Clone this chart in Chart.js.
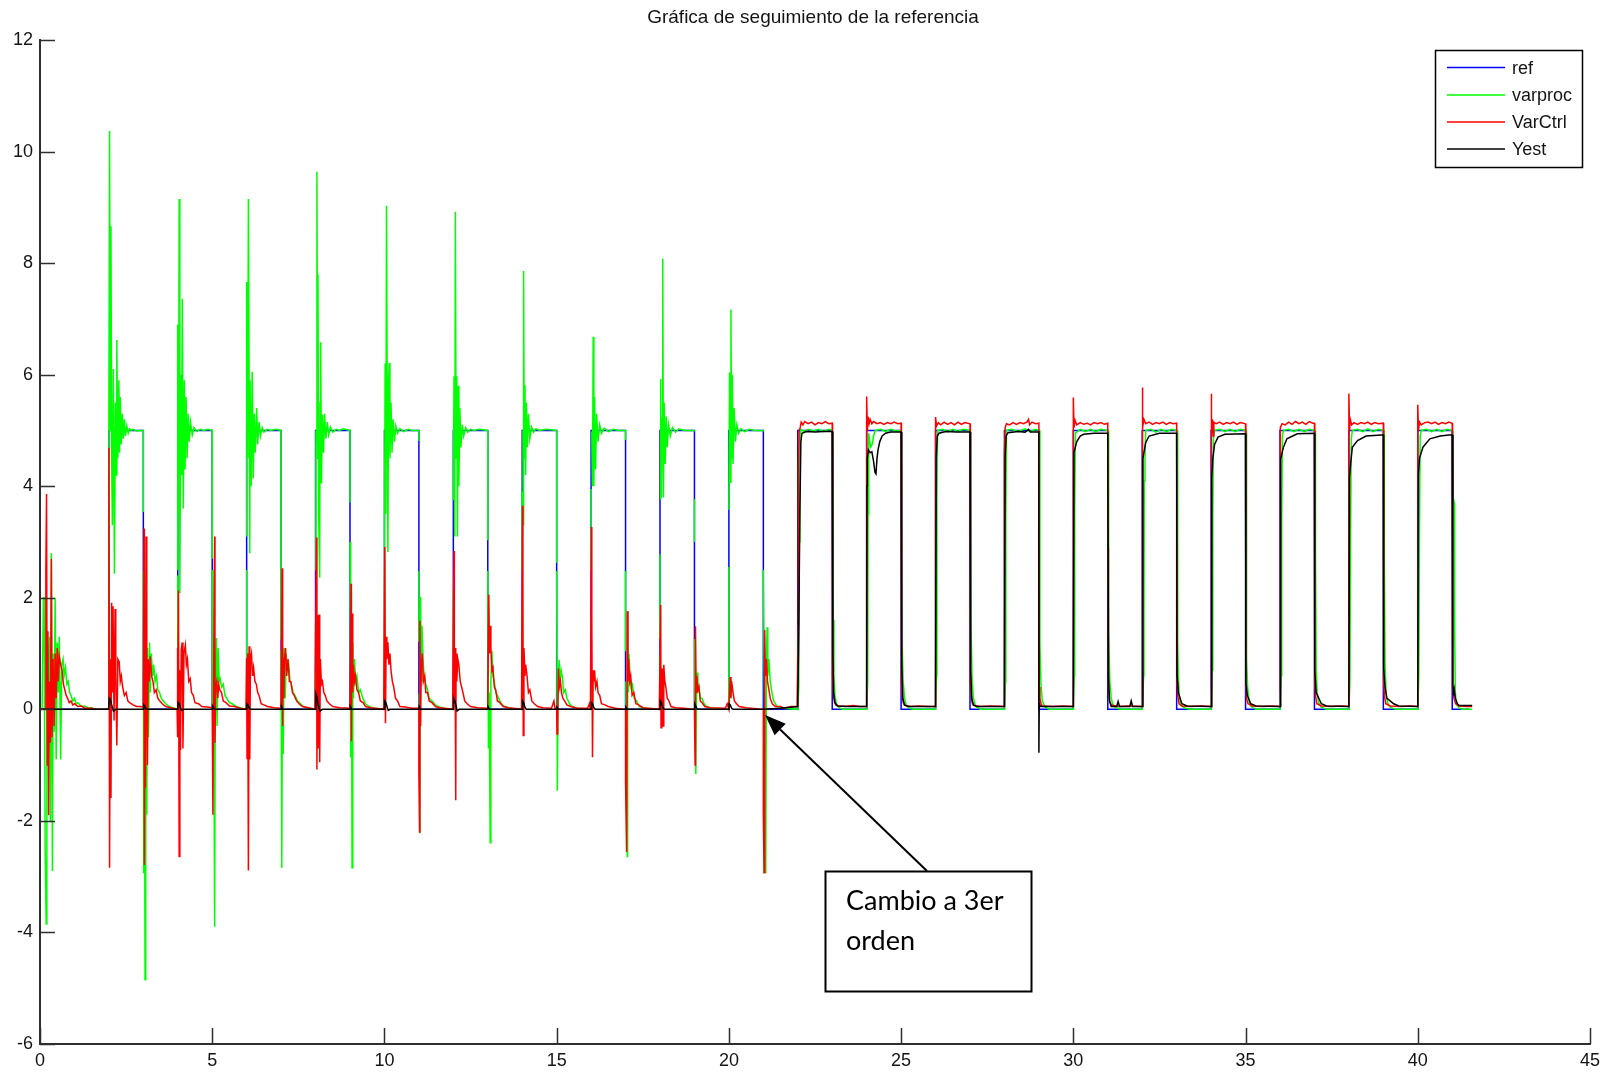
<!DOCTYPE html>
<html>
<head>
<meta charset="utf-8">
<script src="https://cdn.jsdelivr.net/npm/chart.js@4.4.1/dist/chart.umd.min.js"></script>
<style>
  html, body { margin: 0; padding: 0; background: #ffffff; }
  canvas { display: block; }
</style>
</head>
<body>
<canvas id="chart" width="1612" height="1073" style="width:1612px;height:1073px"></canvas>
<script>
// ---- axis ranges and labels ----
const xRange = [0, 45];
const xStep = 5;
const yRange = [-6, 12];
const yStep = 2;
const titleText = 'Gráfica de seguimiento de la referencia';
const seriesNames = ['ref', 'varproc', 'VarCtrl', 'Yest'];
const seriesColors = ['#0000ff', '#00ff00', '#ff0000', '#000000'];
const noteLines = ['Cambio a 3er', 'orden'];
const notePoint = [21.05, -0.1];   // where the arrow points (t, value)

// ---- reference signal (square wave) ----
const refPts = [
  [0,0],[2,0],[2,5],[3,5],[3,0],[4,0],[4,5],[5,5],[5,0],[6,0],[6,5],[7,5],[7,0],[8,0],[8,5],[9,5],[9,0],
  [10,0],[10,5],[11,5],[11,0],[12,0],[12,5],[13,5],[13,0],[14,0],[14,5],[15,5],[15,0],[16,0],[16,5],[17,5],[17,0],
  [18,0],[18,5],[19,5],[19,0],[20,0],[20,5],[21,5],[21,0],[22,0],[22,5],[23,5],[23,0],[24,0],[24,5],[25,5],[25,0],
  [26,0],[26,5],[27,5],[27,0],[28,0],[28,5],[29,5],[29,0],[30,0],[30,5],[31,5],[31,0],[32,0],[32,5],[33,5],[33,0],
  [34,0],[34,5],[35,5],[35,0],[36,0],[36,5],[37,5],[37,0],[38,0],[38,5],[39,5],[39,0],[40,0],[40,5],[41,5],[41,0],[41.5,0]
];

// ---- process variable, 2nd-order stage (t < 21.6) ----
const varprocEarly = [
  [0,0],[0.06,0],[0.1,2.0],[0.12,2.0],[0.15,-2.5],[0.18,-3.85],[0.2,1.4],[0.23,-0.5],[0.25,0.9],[0.28,1.3],[0.3,-2.0],
  [0.33,2.8],[0.36,-2.9],[0.38,1.0],[0.41,-0.4],[0.44,2.0],[0.47,-0.9],[0.5,1.2],[0.53,0.3],[0.56,1.3],[0.6,-0.9],
  [0.63,0.8],[0.67,0.9],[0.7,0.6],[0.74,0.75],[0.78,0.45],[0.82,0.5],[0.86,0.3],[0.9,0.25],[0.95,0.15],[1.0,0.2],
  [1.05,0.1],[1.1,0.12],[1.2,0.05],[1.3,0.06],[1.4,0.02],[1.5,0.03],[1.6,0],[2.0,0],
  [2.0,5.4],[2.02,10.37],[2.04,5.0],[2.06,8.66],[2.08,4.6],[2.1,3.3],[2.13,6.1],[2.16,2.43],[2.19,5.5],[2.21,4.2],
  [2.23,6.62],[2.26,4.5],[2.29,5.9],[2.31,4.6],[2.33,5.6],[2.36,4.75],[2.39,5.3],[2.42,4.85],[2.45,5.2],[2.48,4.9],
  [2.52,5.08],[2.56,4.95],[2.6,5.03],[2.65,5.0],[2.7,5.02],[2.8,4.99],[2.9,5.0],[3.0,5.0],
  [3.0,3.54],[3.0,null],[3.0,2.48],[3.01,-2.94],[3.03,0.5],[3.05,-4.85],[3.07,1.33],[3.1,-1.89],[3.12,1.1],[3.15,-0.5],
  [3.18,1.2],[3.2,0.3],[3.23,1.0],[3.27,0.6],[3.3,0.8],[3.34,0.5],[3.38,0.6],[3.42,0.35],[3.47,0.3],[3.52,0.2],
  [3.58,0.15],[3.65,0.1],[3.75,0.05],[3.85,0.03],[4.0,0],
  [4.0,2.4],[4.0,null],[4.0,2.5],[4.0,6.9],[4.02,3.5],[4.04,9.15],[4.06,2.08],[4.09,6.0],[4.11,4.2],[4.13,7.36],
  [4.16,3.6],[4.19,5.9],[4.21,4.3],[4.24,5.6],[4.27,4.5],[4.3,5.3],[4.33,4.8],[4.37,5.15],[4.42,4.92],[4.47,5.05],
  [4.55,4.98],[4.65,5.02],[4.75,5.0],[4.88,5.02],[5.0,5.0],
  [5.0,2.7],[5.0,null],[5.0,2.5],[5.02,-0.5],[5.04,0.8],[5.07,-3.9],[5.09,0.6],[5.12,1.28],[5.14,-0.3],[5.17,1.1],
  [5.2,0.5],[5.23,0.55],[5.27,0.4],[5.32,0.45],[5.37,0.25],[5.42,0.2],[5.5,0.12],[5.58,0.1],[5.7,0.05],[5.85,0.02],[6.0,0],
  [6.0,2.5],[6.0,null],[6.0,3.1],[6.0,7.66],[6.03,4.5],[6.05,9.15],[6.07,5.9],[6.09,2.8],[6.1,5.9],[6.13,4.0],
  [6.16,6.05],[6.19,4.14],[6.22,5.3],[6.25,4.6],[6.29,5.4],[6.32,4.75],[6.36,5.15],[6.4,4.9],[6.45,5.05],[6.5,4.97],
  [6.6,5.02],[6.7,5.0],[6.85,5.02],[7.0,5.0],
  [7.0,1.25],[7.0,null],[7.0,1.05],[7.02,-2.84],[7.04,1.13],[7.06,-0.8],[7.09,1.1],[7.12,0.2],[7.15,1.0],[7.18,0.7],
  [7.22,0.8],[7.26,0.5],[7.3,0.45],[7.35,0.3],[7.4,0.25],[7.48,0.15],[7.56,0.1],[7.65,0.05],[7.8,0.02],[8.0,0],
  [8.0,1.55],[8.0,null],[8.0,2.5],[8.01,5.0],[8.02,4.8],[8.04,9.64],[8.06,4.5],[8.07,7.8],[8.09,3.5],[8.12,2.36],
  [8.13,5.5],[8.15,6.58],[8.17,4.05],[8.2,5.28],[8.23,4.6],[8.26,5.3],[8.3,4.85],[8.34,5.15],[8.38,4.92],[8.43,5.06],
  [8.5,4.97],[8.6,5.02],[8.7,5.0],[8.8,5.03],[9.0,5.0],
  [9.0,3.71],[9.0,null],[9.0,3.0],[9.02,-0.86],[9.04,2.21],[9.06,-2.84],[9.08,1.2],[9.1,0.2],[9.13,0.9],[9.16,0.5],
  [9.2,0.6],[9.25,0.3],[9.3,0.35],[9.37,0.2],[9.45,0.1],[9.55,0.05],[9.7,0.02],[10.0,0],
  [10.0,2.82],[10.02,6.2],[10.04,3.5],[10.06,9.03],[10.08,5.7],[10.1,2.82],[10.12,5.9],[10.14,6.21],[10.16,4.5],
  [10.19,5.5],[10.22,4.6],[10.25,5.2],[10.29,4.8],[10.33,5.08],[10.38,4.95],[10.45,5.03],[10.55,4.98],[10.7,5.02],
  [10.8,5.0],[11.0,5.0],
  [11.0,4.81],[11.0,null],[11.0,2.48],[11.0,1.21],[11.0,null],[11.01,0.28],[11.02,-1.0],[11.03,-2.22],[11.05,2.02],
  [11.07,0.5],[11.09,1.5],[11.12,0.9],[11.15,0.6],[11.2,0.45],[11.25,0.35],[11.3,0.2],[11.38,0.15],[11.45,0.1],
  [11.55,0.05],[11.7,0.02],[12.0,0],
  [12.0,0.7],[12.0,null],[12.0,1.0],[12.0,2.14],[12.0,null],[12.0,3.75],[12.02,5.97],[12.04,3.1],[12.06,8.92],
  [12.08,4.5],[12.1,5.97],[12.12,3.1],[12.14,5.8],[12.16,4.0],[12.19,5.4],[12.22,4.7],[12.26,5.1],[12.3,4.9],
  [12.36,5.05],[12.42,4.97],[12.5,5.02],[12.6,5.0],[12.75,5.02],[13.0,5.0],
  [13.0,3.03],[13.0,null],[13.0,2.48],[13.02,-0.7],[13.04,0.3],[13.07,-2.39],[13.09,0.5],[13.12,1.05],[13.15,0.6],
  [13.19,0.5],[13.23,0.3],[13.28,0.25],[13.35,0.15],[13.42,0.08],[13.5,0.05],[13.65,0.02],[14.0,0],
  [14.0,1.8],[14.0,null],[14.0,2.5],[14.0,3.9],[14.0,null],[14.02,5.0],[14.03,3.31],[14.04,7.86],[14.06,4.5],
  [14.08,5.81],[14.1,4.2],[14.12,5.5],[14.15,4.7],[14.18,5.3],[14.22,4.85],[14.27,5.06],[14.33,4.97],[14.4,5.03],
  [14.5,5.0],[14.7,5.02],[15.0,5.0],
  [15.0,2.63],[15.0,null],[15.0,2.48],[15.02,-1.46],[15.04,0.2],[15.07,0.89],[15.1,0.5],[15.13,0.7],[15.17,0.55],
  [15.2,0.3],[15.25,0.35],[15.3,0.2],[15.37,0.1],[15.45,0.05],[15.6,0.02],[16.0,0],
  [16.0,1.64],[16.0,null],[16.0,2.5],[16.0,3.95],[16.0,null],[16.02,4.98],[16.04,4.0],[16.06,6.68],[16.08,4.0],
  [16.1,5.6],[16.13,4.3],[16.16,5.3],[16.2,4.8],[16.25,5.1],[16.3,4.95],[16.38,5.04],[16.5,4.98],[16.65,5.02],
  [16.8,5.0],[17.0,5.0],
  [17.0,4.83],[17.0,null],[17.0,2.48],[17.0,1.04],[17.0,null],[17.01,0.5],[17.02,-1.3],[17.05,-2.64],[17.06,1.76],
  [17.08,0.3],[17.1,1.0],[17.13,0.6],[17.16,0.4],[17.2,0.45],[17.25,0.2],[17.32,0.15],[17.4,0.05],[17.55,0.02],[18.0,0],
  [18.0,0.96],[18.0,null],[18.0,1.27],[18.0,2.78],[18.0,null],[18.0,3.77],[18.02,5.92],[18.04,3.8],[18.06,5.2],
  [18.08,8.08],[18.1,3.8],[18.12,5.5],[18.15,4.4],[18.18,5.25],[18.21,4.7],[18.25,5.1],[18.3,4.9],[18.36,5.05],
  [18.45,4.97],[18.55,5.03],[18.7,5.0],[19.0,5.0],
  [19.0,4.98],[19.0,null],[19.0,3.77],[19.0,3.0],[19.0,null],[19.0,1.26],[19.02,-0.5],[19.04,-1.16],[19.06,0.3],
  [19.08,0.66],[19.1,0.3],[19.13,0.4],[19.17,0.2],[19.22,0.2],[19.28,0.1],[19.35,0.05],[19.5,0.02],[20.0,0],
  [20.0,2.55],[20.0,null],[20.0,3.58],[20.02,6.04],[20.04,4.07],[20.06,7.17],[20.08,4.5],[20.1,6.0],[20.12,4.4],
  [20.15,5.4],[20.19,4.8],[20.23,5.1],[20.28,4.95],[20.35,5.03],[20.45,4.98],[20.6,5.02],[20.75,5.0],[21.0,5.0],
  [21.0,4.98],[21.0,null],[21.0,2.5],[21.03,0.5],[21.05,-1.0],[21.07,-2.94],[21.09,1.0],[21.11,1.47],[21.13,0.6],
  [21.16,0.9],[21.2,0.5],[21.25,0.3],[21.3,0.15],[21.4,0.05],[21.55,0.02]
];

// ---- process variable, 3rd-order stage ----
const varprocLate = [
  [22.0,0],[22.03,0.4],[22.04,3.0],[22.06,4.85],[22.08,5.02],[22.2,4.98],[22.3,5.02],[22.45,4.99],[22.6,5.02],
  [22.75,4.98],[22.9,5.02],[23.0,5.0],
  [23.02,5.0],[23.03,1.6],[23.05,0.6],[23.08,0.25],[23.12,0.1],[23.2,0.03],[23.3,0],[24.0,0],
  [24.03,0.5],[24.04,3.5],[24.06,4.95],[24.09,4.8],[24.12,4.7],[24.16,4.75],[24.2,4.9],[24.25,5.0],[24.4,5.02],
  [24.55,4.98],[24.7,5.02],[24.85,4.99],[25.0,5.0],
  [25.02,5.0],[25.03,1.2],[25.06,0.5],[25.1,0.2],[25.15,0.07],[25.25,0.02],[25.35,0],[26.0,0],
  [26.03,0.6],[26.04,3.8],[26.06,5.0],[26.2,5.02],[26.35,4.98],[26.5,5.02],[26.65,4.98],[26.8,5.02],[27.0,5.0],
  [27.02,5.0],[27.03,1.5],[27.06,0.55],[27.1,0.2],[27.16,0.06],[27.3,0],[28.0,0],
  [28.03,0.5],[28.04,3.5],[28.06,5.0],[28.2,5.02],[28.4,4.98],[28.6,5.03],[28.75,4.98],[28.9,5.02],[29.0,5.0],
  [29.02,5.0],[29.03,1.2],[29.06,0.45],[29.1,0.15],[29.18,0.04],[29.3,0],[30.0,0],
  [30.03,0.6],[30.04,3.6],[30.06,4.95],[30.2,5.02],[30.35,4.98],[30.5,5.02],[30.65,4.98],[30.8,5.02],[31.0,5.0],
  [31.01,5.0],[31.02,3.8],[31.03,1.4],[31.06,0.5],[31.1,0.2],[31.15,0.08],[31.25,0.02],[31.4,0],[32.0,0],
  [32.04,0.6],[32.05,1.7],[32.06,4.1],[32.08,4.5],[32.1,5.0],[32.25,5.02],[32.4,4.97],[32.55,5.02],[32.7,4.98],
  [32.85,5.02],[33.0,5.0],
  [33.02,5.0],[33.03,1.2],[33.05,0.6],[33.08,0.2],[33.13,0.07],[33.25,0.02],[33.4,0],[34.0,0],
  [34.03,0.7],[34.05,3.5],[34.07,4.9],[34.1,5.0],[34.25,5.02],[34.4,4.98],[34.55,5.02],[34.7,4.98],[34.85,5.02],[35.0,5.0],
  [35.02,5.0],[35.03,0.9],[35.06,0.4],[35.1,0.15],[35.16,0.05],[35.3,0],[36.0,0],
  [36.03,0.6],[36.05,3.4],[36.07,4.9],[36.1,5.0],[36.25,5.02],[36.4,4.98],[36.55,5.02],[36.7,4.98],[36.85,5.02],[37.0,5.0],
  [37.02,5.0],[37.03,2.8],[37.05,0.7],[37.08,0.3],[37.12,0.12],[37.2,0.04],[37.35,0],[38.0,0],
  [38.03,0.5],[38.05,3.2],[38.07,4.85],[38.1,5.0],[38.25,5.02],[38.4,4.98],[38.55,5.03],[38.7,4.98],[38.85,5.02],[39.0,5.0],
  [39.02,5.0],[39.03,2.66],[39.05,0.8],[39.08,0.3],[39.12,0.12],[39.2,0.04],[39.35,0],[40.0,0],
  [40.03,0.6],[40.05,3.3],[40.07,4.9],[40.1,5.0],[40.25,5.02],[40.4,4.98],[40.55,5.02],[40.7,4.98],[40.85,5.02],[41.0,5.0],
  [41.02,4.98],[41.03,3.8],[41.06,3.7],[41.07,1.5],[41.09,0.3],[41.12,0.1],[41.2,0.02],[41.3,0],[41.58,0]
];

// ---- control variable, 2nd-order stage ----
const varCtrlEarly = [
  [0,0],[0.15,0],[0.17,2.5],[0.19,3.86],[0.21,-1.0],[0.23,1.4],[0.25,-1.9],[0.27,0.5],[0.3,-0.6],[0.33,2.7],
  [0.35,-0.5],[0.38,0.9],[0.41,-0.3],[0.44,1.0],[0.47,0.2],[0.5,1.1],[0.53,0.5],[0.56,0.95],[0.6,0.8],[0.64,0.7],
  [0.68,0.45],[0.72,0.35],[0.76,0.25],[0.8,0.2],[0.85,0.12],[0.9,0.15],[0.95,0.08],[1.0,0.1],[1.1,0.05],[1.2,0.06],
  [1.3,0.02],[1.5,0.02],[1.6,0],[1.98,0],
  [2.0,4.69],[2.02,-2.84],[2.04,0.9],[2.06,-1.59],[2.08,1.91],[2.1,0.3],[2.12,1.85],[2.15,-0.2],[2.18,1.8],[2.2,0.6],
  [2.23,-0.65],[2.26,0.9],[2.3,0.85],[2.33,0.5],[2.36,0.6],[2.4,0.4],[2.45,0.25],[2.5,0.3],[2.55,0.15],[2.6,0.12],
  [2.7,0.08],[2.8,0.05],[2.9,0.05],[3.0,0.04],
  [3.02,3.24],[3.03,-2.79],[3.05,1.0],[3.06,-1.4],[3.08,3.1],[3.1,0.4],[3.12,-1.0],[3.14,0.9],[3.17,0.5],[3.2,0.95],
  [3.24,0.6],[3.28,0.5],[3.32,0.3],[3.37,0.35],[3.42,0.2],[3.48,0.15],[3.55,0.1],[3.65,0.05],[3.8,0.03],[3.98,0],
  [3.99,1.1],[4.0,-0.5],[4.02,2.13],[4.04,-2.64],[4.06,0.7],[4.08,-0.73],[4.1,1.07],[4.13,1.2],[4.15,-0.7],[4.18,1.0],
  [4.22,1.15],[4.25,0.8],[4.28,0.9],[4.32,0.5],[4.36,0.55],[4.4,0.3],[4.45,0.25],[4.5,0.12],[4.6,0.1],[4.7,0.05],
  [4.85,0.04],[5.0,0.03],
  [5.02,-1.89],[5.04,0.6],[5.07,3.1],[5.08,-0.6],[5.1,0.4],[5.13,0.5],[5.16,0.2],[5.19,0.45],[5.22,0.35],[5.27,0.3],
  [5.32,0.15],[5.4,0.12],[5.5,0.06],[5.65,0.05],[5.8,0.02],[5.98,0],
  [6.0,0.92],[6.01,-0.88],[6.03,1.0],[6.05,-2.89],[6.07,1.13],[6.09,-0.9],[6.11,0.9],[6.14,1.0],[6.17,0.6],[6.2,0.75],
  [6.24,0.5],[6.28,0.45],[6.32,0.3],[6.36,0.25],[6.42,0.1],[6.5,0.08],[6.6,0.05],[6.8,0.03],[7.0,0.02],
  [7.03,2.53],[7.04,-0.3],[7.05,1.13],[7.08,0.2],[7.1,0.9],[7.13,1.1],[7.16,0.6],[7.2,0.9],[7.24,0.5],[7.28,0.5],
  [7.33,0.3],[7.38,0.25],[7.45,0.15],[7.52,0.1],[7.62,0.05],[7.8,0.03],[7.98,0],
  [8.03,3.08],[8.04,-1.08],[8.06,1.68],[8.08,-0.7],[8.1,1.7],[8.12,-0.95],[8.14,0.9],[8.17,0.45],[8.2,0.5],[8.24,0.3],
  [8.28,0.25],[8.33,0.15],[8.4,0.1],[8.5,0.05],[8.7,0.03],[9.0,0.02],
  [9.03,2.25],[9.04,-0.57],[9.06,1.72],[9.08,0.3],[9.1,0.8],[9.13,0.5],[9.16,0.6],[9.2,0.35],[9.25,0.3],[9.3,0.15],
  [9.38,0.12],[9.45,0.05],[9.6,0.03],[9.98,0],
  [10.01,2.91],[10.03,-0.25],[10.05,1.3],[10.07,0.9],[10.1,1.2],[10.13,0.8],[10.16,1.0],[10.19,0.7],[10.23,0.5],
  [10.27,0.4],[10.32,0.2],[10.38,0.15],[10.45,0.05],[10.6,0.04],[10.8,0.02],[11.0,0.02],
  [11.0,-1.1],[11.02,-2.2],[11.03,1.59],[11.05,-0.3],[11.07,0.8],[11.1,1.0],[11.13,0.5],[11.17,0.6],[11.2,0.3],
  [11.25,0.3],[11.3,0.15],[11.38,0.12],[11.48,0.05],[11.6,0.03],[11.98,0],
  [12.02,2.84],[12.03,0.2],[12.05,1.1],[12.07,-1.63],[12.08,1.0],[12.1,0.5],[12.13,0.9],[12.16,0.8],[12.2,0.5],
  [12.24,0.4],[12.28,0.3],[12.33,0.15],[12.4,0.1],[12.5,0.05],[12.7,0.03],[13.0,0.02],
  [13.03,2.06],[13.05,1.0],[13.07,1.5],[13.09,1.1],[13.12,0.7],[13.15,0.75],[13.19,0.4],[13.23,0.35],[13.28,0.15],
  [13.35,0.12],[13.45,0.05],[13.6,0.03],[13.98,0],
  [14.01,3.65],[14.02,2.2],[14.03,-0.47],[14.05,1.1],[14.08,0.6],[14.1,0.8],[14.14,0.6],[14.18,0.3],[14.22,0.35],
  [14.28,0.15],[14.35,0.1],[14.45,0.05],[14.6,0.03],[14.85,0.02],[14.92,0.15],[14.95,0.02],[15.0,0],
  [15.01,-0.44],[15.03,-0.3],[15.05,0.73],[15.08,0.4],[15.11,0.5],[15.14,0.3],[15.18,0.2],[15.23,0.15],[15.3,0.08],
  [15.4,0.05],[15.6,0.02],[15.9,0.02],[15.95,0.1],[15.98,0],
  [16.01,3.27],[16.02,1.6],[16.04,-0.86],[16.06,0.7],[16.08,0.5],[16.1,0.7],[16.13,0.4],[16.17,0.5],[16.2,0.3],
  [16.25,0.25],[16.3,0.1],[16.4,0.08],[16.5,0.05],[16.7,0.02],[17.0,0],
  [17.0,-1.3],[17.03,-2.56],[17.05,1.76],[17.07,0.5],[17.09,0.9],[17.12,0.5],[17.15,0.6],[17.19,0.25],[17.24,0.3],
  [17.3,0.1],[17.38,0.08],[17.5,0.03],[17.98,0],
  [18.02,1.87],[18.03,-0.33],[18.05,0.6],[18.07,0.73],[18.09,-0.3],[18.11,0.8],[18.14,0.5],[18.17,0.4],[18.21,0.2],
  [18.26,0.15],[18.32,0.05],[18.45,0.03],[18.7,0.02],[19.0,0],
  [19.02,-1.0],[19.03,1.49],[19.05,0.3],[19.07,0.6],[19.1,0.35],[19.13,0.4],[19.17,0.15],[19.22,0.12],[19.3,0.05],
  [19.45,0.03],[19.9,0.02],[19.95,0.1],[20.0,0],
  [20.02,0.3],[20.04,0.58],[20.06,0.2],[20.08,0.5],[20.12,0.3],[20.16,0.15],[20.22,0.1],[20.3,0.05],[20.5,0.03],[21.0,0],
  [21.0,-1.84],[21.02,-2.93],[21.04,1.42],[21.06,0.6],[21.09,0.9],[21.12,0.5],[21.15,0.4],[21.2,0.2],[21.26,0.1],
  [21.35,0.05],[21.5,0.05],[21.6,0.02],[21.8,0.05],[21.98,0.05]
];

// ---- control variable, 3rd-order stage ----
const varCtrlLate = [
  [22.0,0.05],[22.01,1.5],[22.02,4.3],[22.04,5.0],[22.07,5.05],[22.1,5.15],[22.15,5.1],[22.2,5.16],[22.3,5.12],
  [22.4,5.15],[22.5,5.1],[22.6,5.14],[22.7,5.12],[22.8,5.16],[22.9,5.12],[23.0,5.13],
  [23.01,0.6],[23.03,0.3],[23.06,0.15],[23.1,0.08],[23.2,0.06],[23.4,0.05],[23.6,0.07],[23.8,0.05],[24.0,0.05],
  [24.0,5.61],[24.02,5.0],[24.04,5.25],[24.07,5.12],[24.1,5.2],[24.15,5.12],[24.2,5.16],[24.3,5.12],[24.4,5.14],
  [24.5,5.11],[24.6,5.14],[24.7,5.12],[24.8,5.15],[24.9,5.12],[25.0,5.13],
  [25.01,0.5],[25.03,0.25],[25.06,0.12],[25.1,0.07],[25.3,0.05],[25.5,0.06],[25.8,0.05],[26.0,0.05],
  [26.0,5.24],[26.03,5.08],[26.08,5.14],[26.15,5.1],[26.25,5.15],[26.35,5.11],[26.45,5.14],[26.55,5.1],[26.65,5.15],
  [26.75,5.11],[26.85,5.14],[27.0,5.12],
  [27.01,0.5],[27.03,0.3],[27.06,0.12],[27.1,0.07],[27.3,0.05],[27.6,0.06],[28.0,0.05],
  [28.0,4.6],[28.02,5.05],[28.06,5.12],[28.15,5.1],[28.25,5.14],[28.35,5.11],[28.45,5.14],[28.55,5.12],[28.65,5.15],
  [28.7,5.2],[28.73,5.1],[28.8,5.15],[28.9,5.12],[29.0,5.13],
  [29.01,0.4],[29.03,0.2],[29.06,0.1],[29.1,0.06],[29.4,0.05],[29.7,0.06],[30.0,0.05],
  [30.0,5.59],[30.02,5.05],[30.05,5.18],[30.1,5.1],[30.2,5.14],[30.3,5.11],[30.4,5.13],[30.5,5.1],[30.6,5.14],
  [30.7,5.12],[30.8,5.14],[30.9,5.11],[31.0,5.13],
  [31.01,2.9],[31.02,0.4],[31.05,0.15],[31.1,0.08],[31.3,0.05],[31.6,0.06],[32.0,0.05],
  [32.0,5.77],[32.02,5.05],[32.05,5.2],[32.1,5.12],[32.2,5.15],[32.3,5.11],[32.4,5.14],[32.5,5.12],[32.6,5.15],
  [32.7,5.11],[32.8,5.14],[32.9,5.12],[33.0,5.13],
  [33.01,0.5],[33.03,0.25],[33.07,0.1],[33.15,0.06],[33.4,0.05],[33.7,0.06],[34.0,0.05],
  [34.0,5.66],[34.02,4.95],[34.04,5.2],[34.06,4.9],[34.08,5.15],[34.15,5.12],[34.25,5.15],[34.35,5.11],[34.45,5.14],
  [34.55,5.12],[34.65,5.15],[34.75,5.11],[34.85,5.14],[35.0,5.12],
  [35.01,0.5],[35.03,0.2],[35.07,0.1],[35.2,0.06],[35.5,0.05],[35.8,0.06],[36.0,0.05],
  [36.0,4.3],[36.02,5.05],[36.06,5.12],[36.15,5.1],[36.25,5.15],[36.35,5.11],[36.45,5.16],[36.55,5.12],[36.65,5.15],
  [36.75,5.11],[36.85,5.16],[36.95,5.13],[37.0,5.13],
  [37.01,0.5],[37.03,0.25],[37.07,0.1],[37.2,0.06],[37.5,0.05],[37.8,0.06],[38.0,0.05],
  [38.0,5.66],[38.02,5.0],[38.04,5.2],[38.08,5.1],[38.15,5.14],[38.25,5.11],[38.35,5.14],[38.45,5.12],[38.55,5.15],
  [38.65,5.11],[38.75,5.14],[38.85,5.12],[39.0,5.13],
  [39.01,0.5],[39.03,0.25],[39.07,0.1],[39.2,0.06],[39.5,0.05],[39.8,0.06],[40.0,0.05],
  [40.0,5.46],[40.02,5.0],[40.05,5.15],[40.1,5.1],[40.2,5.14],[40.3,5.15],[40.4,5.12],[40.5,5.15],[40.6,5.11],
  [40.7,5.14],[40.8,5.12],[40.9,5.15],[41.0,5.13],
  [41.0,3.85],[41.02,0.4],[41.05,0.2],[41.1,0.1],[41.2,0.06],[41.4,0.05],[41.58,0.05]
];

// ---- estimated output, 2nd-order stage ----
const yestEarly = [
  [0,0],[1.99,0],[2.01,0.2],[2.04,0.18],[2.07,0.1],[2.1,0.04],[2.13,-0.03],[2.2,0],
  [3.0,0],[3.01,0.08],[3.04,0.06],[3.08,0],
  [4.0,0],[4.01,0.12],[4.04,0.1],[4.08,0.03],[4.11,-0.02],[4.16,0],
  [5.0,0],[5.01,0.06],[5.05,0.02],[5.08,0],
  [6.0,0],[6.01,0.1],[6.04,0.08],[6.08,0.02],[6.12,0],
  [7.0,0],[7.01,0.05],[7.05,0],
  [8.0,0],[8.01,0.28],[8.04,0.22],[8.07,0.1],[8.1,0.03],[8.13,-0.03],[8.2,0],
  [9.0,0],[9.01,0.05],[9.05,0],
  [10.0,0],[10.01,0.15],[10.04,0.12],[10.08,0.04],[10.11,-0.02],[10.16,0],
  [11.0,0],[11.01,0.05],[11.05,0],
  [12.0,0],[12.01,0.2],[12.04,0.16],[12.08,0.06],[12.11,-0.03],[12.17,0],
  [13.0,0],[13.01,0.05],[13.05,0],
  [14.0,0],[14.01,0.15],[14.04,0.12],[14.08,0.04],[14.12,0],
  [15.0,0],[15.01,0.04],[15.05,0],
  [16.0,0],[16.01,0.12],[16.04,0.1],[16.08,0.03],[16.12,0],
  [17.0,0],[17.01,0.04],[17.05,0],
  [18.0,0],[18.01,0.15],[18.04,0.12],[18.08,0.04],[18.12,0],
  [19.0,0],[19.01,0.1],[19.04,0.06],[19.08,0],
  [20.0,0],[20.01,0.1],[20.04,0.08],[20.08,0.02],[20.12,0],
  [21.0,0],[21.5,0.02]
];

// ---- estimated output, 3rd-order stage ----
const yestLate = [
  [22.0,0.05],[22.03,1.5],[22.06,3.5],[22.09,4.8],[22.12,4.95],[22.25,4.98],[22.5,4.97],[22.75,4.98],[23.0,4.98],
  [23.02,1.0],[23.04,0.3],[23.08,0.12],[23.15,0.06],[23.5,0.05],[24.0,0.05],
  [24.01,4.0],[24.02,4.5],[24.05,4.65],[24.1,4.6],[24.15,4.62],[24.2,4.45],[24.24,4.25],[24.27,4.22],[24.3,4.5],
  [24.33,4.65],[24.38,4.8],[24.45,4.9],[24.55,4.95],[24.7,4.97],[25.0,4.97],
  [25.02,0.8],[25.05,0.2],[25.1,0.08],[25.2,0.05],[26.0,0.05],
  [26.02,4.5],[26.05,4.9],[26.1,4.95],[26.3,4.98],[26.6,4.97],[27.0,4.97],
  [27.02,0.7],[27.05,0.2],[27.1,0.08],[27.2,0.05],[28.0,0.05],
  [28.02,4.5],[28.05,4.9],[28.1,4.96],[28.4,4.98],[28.6,4.97],[28.7,5.02],[28.75,4.97],[29.0,4.97],
  [29.0,-0.78],[29.01,0.1],[29.05,0.05],[30.0,0.05],
  [30.02,4.61],[30.1,4.8],[30.2,4.9],[30.3,4.93],[30.6,4.95],[31.0,4.95],
  [31.02,0.6],[31.05,0.15],[31.1,0.05],[31.26,0.05],[31.3,0.14],[31.34,0.05],[31.5,0.05],[31.64,0.05],[31.68,0.15],
  [31.72,0.05],[32.0,0.05],
  [32.02,4.5],[32.1,4.78],[32.2,4.9],[32.5,4.95],[33.0,4.95],
  [33.01,0.63],[33.05,0.3],[33.15,0.1],[33.3,0.06],[34.0,0.05],
  [34.02,4.16],[34.05,4.5],[34.1,4.75],[34.2,4.88],[34.4,4.93],[35.0,4.94],
  [35.01,0.5],[35.05,0.25],[35.15,0.1],[35.3,0.06],[36.0,0.05],
  [36.02,4.49],[36.1,4.7],[36.2,4.85],[36.5,4.94],[37.0,4.95],
  [37.01,0.69],[37.05,0.3],[37.2,0.1],[37.35,0.06],[38.0,0.05],
  [38.02,4.16],[38.05,4.4],[38.1,4.7],[38.25,4.82],[38.5,4.9],[38.95,4.92],[39.0,4.92],
  [39.01,0.75],[39.05,0.4],[39.1,0.2],[39.3,0.1],[39.45,0.06],[40.0,0.05],
  [40.02,4.22],[40.05,4.5],[40.15,4.7],[40.35,4.85],[40.65,4.9],[40.9,4.92],[41.0,4.92],
  [41.02,0.45],[41.04,0.25],[41.06,0.35],[41.09,0.2],[41.15,0.1],[41.2,0.07],[41.58,0.07]
];

const toXY = pts => pts.map(p => ({ x: p[0], y: p[1] }));

const AXIS_COLOR = '#2e2e2e';
const TEXT_COLOR = '#141414';
const SANS = '"Liberation Sans", Arial, Helvetica, sans-serif';

// title, inward tick marks, legend and the note with its arrow
const decorations = {
  id: 'decorations',
  afterDraw(chart) {
    const ctx = chart.ctx;
    const xs = chart.scales.x, ys = chart.scales.y;
    const area = chart.chartArea;
    ctx.save();

    // inward tick marks
    ctx.strokeStyle = AXIS_COLOR;
    ctx.lineWidth = 1.5;
    ctx.beginPath();
    xs.ticks.forEach(t => {
      const px = Math.round(xs.getPixelForValue(t.value)) + 0.5;
      ctx.moveTo(px, area.bottom);
      ctx.lineTo(px, area.bottom - 16);
    });
    ys.ticks.forEach(t => {
      const py = Math.round(ys.getPixelForValue(t.value)) + 0.5;
      ctx.moveTo(area.left, py);
      ctx.lineTo(area.left + 15, py);
    });
    ctx.stroke();

    // title
    ctx.fillStyle = TEXT_COLOR;
    ctx.font = '19px ' + SANS;
    ctx.textAlign = 'center';
    ctx.textBaseline = 'middle';
    ctx.fillText(titleText, 813, 18);

    // legend
    const lx = 1435.5, ly = 50.5, lw = 147, lh = 117;
    ctx.fillStyle = '#ffffff';
    ctx.fillRect(lx, ly, lw, lh);
    ctx.strokeStyle = '#000000';
    ctx.lineWidth = 1.5;
    ctx.strokeRect(lx, ly, lw, lh);
    const rows = [67.5, 95, 122, 149];
    ctx.font = '18px ' + SANS;
    ctx.textAlign = 'left';
    ctx.textBaseline = 'middle';
    seriesNames.forEach((name, i) => {
      ctx.strokeStyle = seriesColors[i];
      ctx.lineWidth = 1.6;
      ctx.beginPath();
      ctx.moveTo(1447, rows[i]);
      ctx.lineTo(1505, rows[i]);
      ctx.stroke();
      ctx.fillStyle = TEXT_COLOR;
      ctx.fillText(name, 1512, rows[i] + 1.5);
    });

    // note box
    const bx = 825.5, by = 871.5, bw = 206, bh = 120;
    ctx.fillStyle = '#ffffff';
    ctx.fillRect(bx, by, bw, bh);
    ctx.strokeStyle = '#000000';
    ctx.lineWidth = 2;
    ctx.strokeRect(bx, by, bw, bh);
    ctx.fillStyle = '#000000';
    ctx.font = '27px Lato, "Open Sans", sans-serif';
    ctx.textAlign = 'left';
    ctx.textBaseline = 'alphabetic';
    ctx.fillText(noteLines[0], 846, 910);
    ctx.fillText(noteLines[1], 846, 950);

    // arrow from the box to the switching instant
    const tipX = xs.getPixelForValue(notePoint[0]);
    const tipY = ys.getPixelForValue(notePoint[1]);
    const tailX = 927, tailY = 871;
    const ang = Math.atan2(tipY - tailY, tipX - tailX);
    const headLen = 21, headHalf = 8;
    const baseX = tipX - headLen * Math.cos(ang), baseY = tipY - headLen * Math.sin(ang);
    ctx.strokeStyle = '#000000';
    ctx.lineWidth = 2;
    ctx.beginPath();
    ctx.moveTo(tailX, tailY);
    ctx.lineTo(baseX, baseY);
    ctx.stroke();
    ctx.beginPath();
    ctx.moveTo(tipX, tipY);
    ctx.lineTo(baseX + headHalf * Math.sin(ang), baseY - headHalf * Math.cos(ang));
    ctx.lineTo(baseX - headHalf * Math.sin(ang), baseY + headHalf * Math.cos(ang));
    ctx.closePath();
    ctx.fillStyle = '#000000';
    ctx.fill();

    ctx.restore();
  }
};

const lineStyle = { showLine: true, pointRadius: 0, pointHoverRadius: 0, borderWidth: 1.5, tension: 0, fill: false, spanGaps: false };

new Chart(document.getElementById('chart'), {
  type: 'scatter',
  data: {
    datasets: [
      Object.assign({ label: seriesNames[0], data: toXY(refPts), borderColor: seriesColors[0], order: 3 }, lineStyle),
      Object.assign({ label: seriesNames[1], data: toXY(varprocEarly.concat(varprocLate)), borderColor: seriesColors[1], order: 2 }, lineStyle),
      Object.assign({ label: seriesNames[2], data: toXY(varCtrlEarly.concat(varCtrlLate)), borderColor: seriesColors[2], order: 1 }, lineStyle),
      Object.assign({ label: seriesNames[3], data: toXY(yestEarly.concat(yestLate)), borderColor: seriesColors[3], order: 0 }, lineStyle)
    ]
  },
  options: {
    responsive: false,
    animation: false,
    devicePixelRatio: 1,
    layout: { padding: { top: 40, right: 22, left: 0, bottom: 0 } },
    plugins: { legend: { display: false }, title: { display: false }, tooltip: { enabled: false } },
    events: [],
    scales: {
      x: {
        type: 'linear', min: xRange[0], max: xRange[1],
        ticks: { stepSize: xStep, padding: 6, color: TEXT_COLOR, font: { family: SANS, size: 18 }, maxRotation: 0 },
        grid: { display: false, drawTicks: false },
        border: { display: true, color: AXIS_COLOR, width: 2 },
        afterFit(scale) { scale.height = 29; }
      },
      y: {
        type: 'linear', min: yRange[0], max: yRange[1],
        ticks: { stepSize: yStep, padding: 7, color: TEXT_COLOR, font: { family: SANS, size: 18 } },
        grid: { display: false, drawTicks: false },
        border: { display: true, color: AXIS_COLOR, width: 2 },
        afterFit(scale) { scale.width = 40; }
      }
    }
  },
  plugins: [decorations]
});
</script>
</body>
</html>
